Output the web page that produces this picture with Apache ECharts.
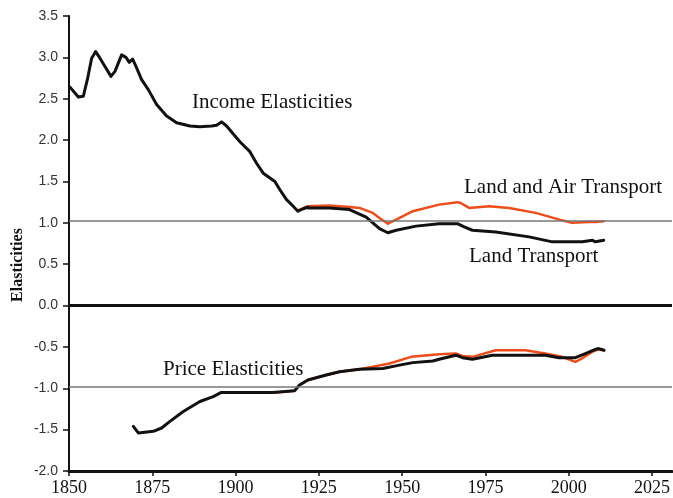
<!DOCTYPE html>
<html>
<head>
<meta charset="utf-8">
<script src="https://cdn.jsdelivr.net/npm/echarts@6/dist/echarts.min.js"></script>
<style>html,body{margin:0;padding:0;background:#fff}#c{width:673px;height:498px}</style>
</head>
<body>
<div id="c"></div>
<script>
// Income elasticity (common trunk, black) 1850-1920
const incomeYears = [1850.3,1852.8,1854.3,1855.5,1856.8,1858,1859.3,1860.8,1862.6,1863.8,1865.8,1867.1,1868.1,1869.1,1870.1,1871.8,1873.8,1876.3,1879.3,1882.3,1886.3,1889.3,1892.8,1894.3,1895.8,1897.3,1901.3,1904.3,1906.3,1908.3,1911.8,1913.3,1915.3,1917.3,1918.7,1920.3,1921.7];
const incomeVals  = [2.64,2.52,2.53,2.73,2.99,3.07,2.99,2.89,2.77,2.83,3.03,3.00,2.94,2.98,2.89,2.73,2.61,2.43,2.29,2.21,2.17,2.16,2.17,2.18,2.22,2.17,1.98,1.86,1.72,1.60,1.50,1.40,1.28,1.20,1.14,1.17,1.19];
// Land and Air Transport (orange)
const landAirYears = [1918.7,1921.7,1928.2,1934.2,1937.2,1941.2,1943.5,1945.7,1948.2,1953.2,1961.1,1966.6,1967.6,1970.1,1976.1,1982.1,1990.1,1998.0,2001.0,2006.0,2008.0,2010.5];
const landAirVals  = [1.15,1.20,1.21,1.19,1.18,1.12,1.05,0.99,1.04,1.14,1.22,1.25,1.24,1.18,1.20,1.18,1.12,1.03,1.00,1.01,1.01,1.02];
// Land Transport (black)
const landYears = [1921.7,1928.2,1934.2,1939.2,1943.2,1945.7,1948.2,1954.2,1961.1,1966.6,1968.6,1971.1,1978.1,1988.1,1995.1,2004.1,2007.1,2008.0,2010.5];
const landVals  = [1.18,1.18,1.16,1.07,0.93,0.88,0.91,0.96,0.99,0.99,0.95,0.91,0.89,0.83,0.77,0.77,0.79,0.77,0.79];
// Price elasticities, land transport (black)
const priceLandYears = [1869.3,1870.8,1875.3,1877.8,1880.3,1884.3,1889.3,1893.3,1895.7,1904.2,1911.2,1917.7,1919.2,1921.7,1927.2,1931.2,1937.2,1944.2,1949.2,1953.2,1959.2,1961.1,1966.1,1968.1,1971.1,1977.1,1985.1,1993.0,1997.1,2002.0,2005.0,2008.0,2009.0,2010.6];
const priceLandVals  = [-1.46,-1.54,-1.52,-1.48,-1.40,-1.28,-1.16,-1.10,-1.05,-1.05,-1.05,-1.03,-0.96,-0.90,-0.84,-0.80,-0.77,-0.76,-0.72,-0.69,-0.67,-0.65,-0.60,-0.63,-0.65,-0.60,-0.60,-0.60,-0.63,-0.63,-0.58,-0.53,-0.52,-0.54];
// Price elasticities, land and air transport (orange)
const priceAirYears = [1912.0,1917.7,1919.2,1921.7,1927.2,1931.2,1937.2,1941.2,1946.2,1952.7,1955.2,1961.1,1966.1,1968.1,1971.1,1978.1,1987.0,1993.0,1998.0,2002.0,2004.0,2007.0,2009.0,2010.6];
const priceAirVals  = [-1.05,-1.03,-0.96,-0.90,-0.84,-0.80,-0.77,-0.74,-0.70,-0.62,-0.61,-0.59,-0.58,-0.61,-0.62,-0.54,-0.54,-0.58,-0.62,-0.68,-0.64,-0.56,-0.53,-0.54];
// Axis ticks
const xTicks = [1850,1875,1900,1925,1950,1975,2000,2025];
const refLines = [1.03, -0.98];

const pairs = (xs, ys) => xs.map((x, i) => [x, ys[i]]);
const ORANGE = '#ec4d1a';
const SERIF = '"Liberation Serif","DejaVu Serif",serif';
const SANS = '"Liberation Sans",Arial,sans-serif';

const chart = echarts.init(document.getElementById('c'), null, {renderer: 'canvas'});
const lineStyle = (c, w) => ({color: c, width: w, join: 'round', cap: 'round'});
chart.setOption({
  animation: false,
  grid: {left: 69, top: 16, right: 0, bottom: 27, containLabel: false},
  xAxis: {
    type: 'value', min: 1850, max: 2031,
    axisLine: {show: true, onZero: false, lineStyle: {color: '#111', width: 3}},
    axisTick: {show: true, length: 5, customValues: xTicks, lineStyle: {color: '#111', width: 1.5}},
    axisLabel: {customValues: xTicks, color: '#111', fontFamily: SERIF, fontSize: 18, margin: 8, formatter: v => String(v)},
    splitLine: {show: false}
  },
  yAxis: {
    type: 'value', min: -2, max: 3.5, interval: 0.5,
    axisLine: {show: true, lineStyle: {color: '#111', width: 2}},
    axisTick: {show: true, length: 6, lineStyle: {color: '#111', width: 1.5}},
    axisLabel: {color: '#333', fontFamily: SANS, fontSize: 14, margin: 11, formatter: v => v.toFixed(1)},
    splitLine: {show: false}
  },
  graphic: [
    {type: 'text', left: 192, top: 92, style: {text: 'Income Elasticities', font: '21px ' + SERIF, fill: '#111'}},
    {type: 'text', left: 464, top: 177, style: {text: 'Land and Air Transport', font: '21px ' + SERIF, fill: '#111'}},
    {type: 'text', left: 469, top: 246, style: {text: 'Land Transport', font: '21px ' + SERIF, fill: '#111'}},
    {type: 'text', left: 163, top: 359, style: {text: 'Price Elasticities', font: '21px ' + SERIF, fill: '#111'}},
    {type: 'text', x: 18, y: 265, rotation: Math.PI / 2, style: {text: 'Elasticities', font: 'bold 16px ' + SERIF, fill: '#111', align: 'center', verticalAlign: 'middle'}}
  ],
  series: [
    {type: 'line', data: [], silent: true,
      markLine: {symbol: 'none', silent: true, label: {show: false},
        data: [
          {yAxis: refLines[0], lineStyle: {color: '#777', width: 1.5, type: 'solid'}},
          {yAxis: refLines[1], lineStyle: {color: '#777', width: 1.5, type: 'solid'}},
          {yAxis: 0, lineStyle: {color: '#111', width: 3, type: 'solid'}}
        ]}},
    {type: 'line', data: pairs(landAirYears, landAirVals), symbol: 'none', lineStyle: lineStyle(ORANGE, 2.5), z: 2},
    {type: 'line', data: pairs(priceAirYears, priceAirVals), symbol: 'none', lineStyle: lineStyle(ORANGE, 2.5), z: 2},
    {type: 'line', data: pairs(incomeYears, incomeVals), symbol: 'none', lineStyle: lineStyle('#111', 3), z: 3},
    {type: 'line', data: pairs(landYears, landVals), symbol: 'none', lineStyle: lineStyle('#111', 3), z: 3},
    {type: 'line', data: pairs(priceLandYears, priceLandVals), symbol: 'none', lineStyle: lineStyle('#111', 3), z: 3}
  ]
});
</script>
</body>
</html>
